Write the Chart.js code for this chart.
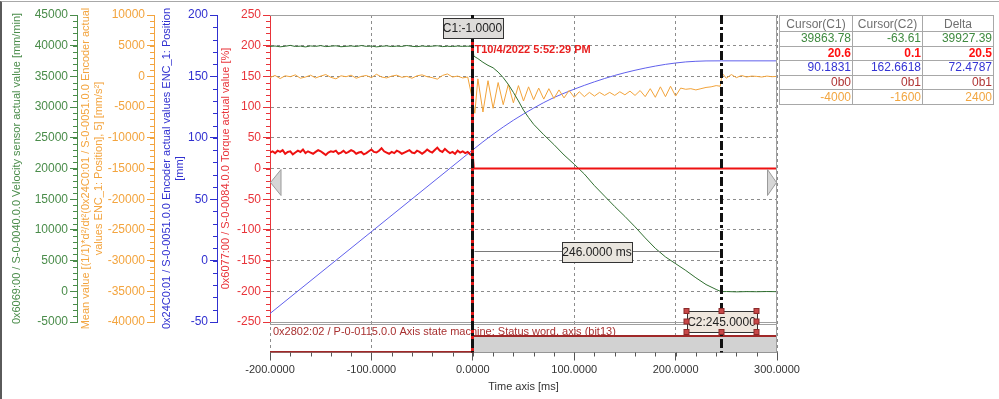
<!DOCTYPE html>
<html>
<head>
<meta charset="utf-8">
<script src="https://cdn.jsdelivr.net/npm/chart.js@4.4.0/dist/chart.umd.min.js"></script>
<style>
  html, body { margin: 0; padding: 0; background: #fff; }
  #wrap { position: relative; width: 999px; height: 399px; overflow: hidden; }
  #frame { position: absolute; left: 0; top: 1px; width: 997px; height: 398px; border-left: 2px solid #5a5a5a; border-top: 1px solid #a8a8a8; pointer-events: none; }
  canvas { position: absolute; left: 0; top: 0; }
  #cursors { position: absolute; left: 779px; top: 15px; border-collapse: collapse; font: 12px "Liberation Sans", Arial, sans-serif; }
  #cursors th { border: 1px solid #a8a8a8; font-weight: normal; color: #707070; height: 15px; padding: 0; line-height: 14px; }
  #cursors td { border: 1px solid #a8a8a8; height: 13.6px; padding: 0 1px 0 0; text-align: right; line-height: 13px; }
</style>
</head>
<body>
<div id="wrap">
  <canvas id="goo" width="999" height="399"></canvas>
  <table id="cursors"></table>
  <div id="frame"></div>
</div>
<script>
// sample times before the trigger (ms)
const preTimes = [];
for (let t = -200; t <= 0; t += 5) preTimes.push(t);
const trqPreTimes = [];
for (let t = -200; t <= 0; t += 2.5) trqPreTimes.push(t);

// velocity sensor actual value [mm/min]
const velPre = [39880, 39950, 39820, 39910, 40050, 39870, 39930, 39800, 39960, 39890, 40010, 39850, 39920, 39980, 39830, 39900, 39960, 39870, 40020, 39890, 39940, 39810, 39900, 39970, 39860, 39930, 39880, 40030, 39900, 39840, 39950, 39880, 39920, 39990, 39850, 39910, 39870, 39940, 39890, 39920, 39864];
const velPostTimes = [1, 5, 10, 15, 20, 25, 30, 35, 40, 45, 50, 55, 60, 70, 80, 90, 100, 110, 120, 130, 140, 150, 160, 170, 180, 190, 200, 210, 220, 230, 240, 245, 250, 260, 270, 280, 290, 300];
const velPost = [38300, 37900, 37300, 36800, 36400, 35700, 34800, 33700, 32400, 31000, 29500, 28300, 27200, 25500, 23900, 22200, 20700, 19100, 17200, 15500, 13800, 12200, 10500, 8700, 7000, 5600, 4500, 3400, 2200, 1100, 300, -63, -40, -90, -50, -70, -40, -60];

// mean acceleration [mm/s2]
const accPre = [-200, 150, -350, 100, -50, 250, -300, -100, 200, -250, 50, 300, -150, -400, 100, -50, 200, -300, 0, 150, -200, 350, -100, -250, 50, 200, -150, 0, -300, 100, 250, -50, -200, -450, 150, 400, -100, 50, -250, -100, -4000];
const accPostTimes = [2, 5, 10, 15, 20, 25, 30, 35, 40, 45, 50, 55, 60, 65, 70, 75, 80, 85, 90, 95, 100, 105, 110, 115, 120, 125, 130, 135, 140, 145, 150, 155, 160, 165, 170, 175, 180, 185, 190, 195, 200, 205, 210, 215, 220, 225, 230, 235, 240, 244, 246, 250, 255, 260, 265, 270, 275, 280, 285, 290, 295, 300];
const accPost = [-6000, -400, -5800, -700, -5200, -1000, -4600, -1300, -4300, -1500, -4000, -1700, -3800, -1900, -3700, -2000, -3600, -2200, -3500, -2300, -3400, -2500, -3300, -2600, -3200, -2600, -3100, -2600, -3100, -2500, -3000, -2400, -3100, -2300, -3300, -2000, -3400, -1700, -3300, -1600, -3200, -1900, -2100, -2000, -2200, -2000, -1800, -1700, -1500, -1600, 500, -300, 300, -200, 150, -100, 50, 0, -100, 50, -50, 0];

// encoder position [mm]
const posTimes = [-200, -100, 0, 10, 20, 30, 40, 50, 60, 70, 80, 90, 100, 110, 120, 130, 140, 150, 160, 170, 180, 190, 200, 210, 220, 230, 245, 300];
const posValues = [-43.1, 23.5, 90.18, 96.7, 102.9, 108.8, 114.3, 119.4, 124.2, 128.7, 132.8, 136.3, 139.6, 142.7, 145.6, 148.3, 150.8, 153.0, 155.0, 156.8, 158.4, 159.8, 160.9, 161.8, 162.3, 162.6, 162.66, 162.66];

// torque actual value [%]
const trqPre = [26, 28, 25, 29, 27, 30, 24, 27, 28, 23, 26, 29, 27, 31, 25, 28, 26, 24, 27, 30,
    28, 25, 22, 26, 28, 27, 29, 24, 26, 29, 25, 27, 30, 28, 24, 26, 27, 23, 25, 28,
    31, 27, 26, 29, 33, 28, 26, 24, 27, 25, 29, 27, 24, 26, 28, 30, 26, 25, 29, 27,
    24, 27, 31, 28, 26, 30, 34, 29, 27, 32, 28, 25, 27, 24, 29, 26, 28, 25, 27, 23, 20.6];
const trqPostTimes = [1, 300];
const trqPost = [0.1, 0.1];

// status word bit13
const bitTimes = [-200, 0, 300];
const bitValues = [0, 1, 1];

// cursors
const cursorC1 = -1;
const cursorC2 = 245;
const triggerText = 'T10/4/2022 5:52:29 PM';
const bitLabel = '0x2802:02 / P-0-0115.0.0 Axis state machine: Status word, axis (bit13)';

// cursor table
const tableHead = ['Cursor(C1)', 'Cursor(C2)', 'Delta'];
const tableRows = [
    ['39863.78', '-63.61', '39927.39'],
    ['20.6', '0.1', '20.5'],
    ['90.1831', '162.6618', '72.4787'],
    ['0b0', '0b1', '0b1'],
    ['-4000', '-1600', '2400']
];
const tableColors = ['#3f8a3f', '#ff1010', '#3434d4', '#b03434', '#f2a640'];

const GREEN = '#4a8c4a';
const ORANGE = '#f3a43e';
const BLUE = '#3030d0';
const RED = '#e8343a';
const FONT = '"Liberation Sans", Arial, sans-serif';
const MAIN_W = 307;
const BAND_W = 30.5;

Chart.defaults.font.family = FONT;

let tbl = document.getElementById("cursors");
let hr = document.createElement("tr");
tableHead.forEach(function(h, i) {
    let th = document.createElement("th");
    th.innerHTML = h;
    th.style.width = [72, 69, 70][i] + "px";
    hr.appendChild(th);
});
tbl.appendChild(hr);
tableRows.forEach(function(row, r) {
    let tr = document.createElement("tr");
    row.forEach(function(v) {
        let td = document.createElement("td");
        td.textContent = v;
        td.style.color = tableColors[r];
        if (r == 1) td.style.fontWeight = "bold";
        tr.appendChild(td);
    });
    tbl.appendChild(tr);
});

function pts(ts, vs) {
    return ts.map(function(t, i) { return { x: t, y: vs[i] }; });
}

function valueAxis(o) {
    return {
        type: 'linear', position: 'left', weight: o.weight, stack: o.stack, stackWeight: MAIN_W,
        min: o.min, max: o.max,
        ticks: { stepSize: o.step, color: o.color, font: { size: 12 }, padding: 2, autoSkip: false,
            callback: function(v) { return String(v); } },
        grid: {
            drawOnChartArea: !!o.grid,
            color: function(c) { return (c.tick && Math.abs(c.tick.value) === 250) ? 'rgba(0,0,0,0)' : '#8c8c8c'; },
            tickColor: o.color, tickLength: 7, tickBorderDash: []
        },
        border: { color: o.color, width: 1, dash: o.grid ? [3, 3] : [] },
        title: { display: true, text: o.title, color: o.color, font: { size: 11 }, padding: { top: o.titlePad, bottom: 0 } },
        afterFit: function(s) { s.width = o.width; }
    };
}

function padAxis(weight, stack) {
    return {
        type: 'linear', position: 'left', weight: weight, stack: stack, stackWeight: BAND_W,
        ticks: { display: false }, grid: { display: false }, border: { display: false },
        afterFit: function(s) { s.width = 0; }
    };
}

const decor = {
    id: 'decor',
    afterDatasetsDraw(chart) {
        const ctx = chart.ctx, a = chart.chartArea, s = chart.scales;
        const x = s.x, trq = s.yTrq, bit = s.yBit;
        ctx.save();

        // frame and band separators
        ctx.strokeStyle = '#a0a0a0';
        ctx.lineWidth = 1;
        ctx.beginPath();
        ctx.moveTo(a.left, a.top + 0.5); ctx.lineTo(a.right - 0.5, a.top + 0.5); ctx.lineTo(a.right - 0.5, a.bottom);
        ctx.moveTo(a.left, Math.round(bit.top) + 0.5); ctx.lineTo(a.right, Math.round(bit.top) + 0.5);
        ctx.moveTo(a.left, Math.round(bit.top) + 2.5); ctx.lineTo(a.right, Math.round(bit.top) + 2.5);
        ctx.stroke();

        ctx.font = '11px ' + FONT;
        ctx.fillStyle = '#a83030';
        ctx.textBaseline = 'middle';
        ctx.textAlign = 'left';
        ctx.fillText(bitLabel, a.left + 3, bit.top + 9.5);

        // scroll arrows
        const y0 = trq.getPixelForValue(0);
        ctx.fillStyle = '#d6d6d6';
        ctx.strokeStyle = '#9a9a9a';
        ctx.beginPath();
        ctx.moveTo(a.left + 0.5, y0 + 14); ctx.lineTo(a.left + 11, y0 + 1); ctx.lineTo(a.left + 11, y0 + 27); ctx.closePath();
        ctx.fill(); ctx.stroke();
        ctx.beginPath();
        ctx.moveTo(a.right - 0.5, y0 + 14); ctx.lineTo(a.right - 9.5, y0 + 1); ctx.lineTo(a.right - 9.5, y0 + 27); ctx.closePath();
        ctx.fill(); ctx.stroke();

        // cursor lines
        const x1 = Math.round(x.getPixelForValue(cursorC1)) + 0.5;
        const x2 = Math.round(x.getPixelForValue(cursorC2)) + 0.5;
        ctx.lineWidth = 3;
        ctx.strokeStyle = '#e01818';
        ctx.beginPath(); ctx.moveTo(x1, a.top); ctx.lineTo(x1, a.bottom); ctx.stroke();
        ctx.setLineDash([9, 3, 3, 3]);
        ctx.strokeStyle = '#111';
        ctx.beginPath(); ctx.moveTo(x1, a.top); ctx.lineTo(x1, a.bottom); ctx.stroke();
        ctx.beginPath(); ctx.moveTo(x2, a.top); ctx.lineTo(x2, a.bottom); ctx.stroke();
        ctx.setLineDash([]);

        // delta measurement
        const yd = Math.round(trq.getPixelForValue(-135)) + 0.5;
        ctx.lineWidth = 1;
        ctx.strokeStyle = '#7a7a7a';
        ctx.beginPath(); ctx.moveTo(x1 + 2, yd); ctx.lineTo(x2 - 2, yd); ctx.stroke();
        box(ctx, (x1 + x2) / 2, yd, 70, 20, '#e9e5de', (cursorC2 - cursorC1).toFixed(4) + ' ms');

        // cursor labels
        box(ctx, x1, a.top + 13, 60, 20, '#dedcda', 'C1:' + cursorC1.toFixed(4));
        const yc2 = bit.top - 0.5;
        box(ctx, x2, yc2, 70, 21, '#efe7de', 'C2:' + cursorC2.toFixed(4));
        ctx.fillStyle = '#c84848';
        ctx.strokeStyle = '#8a2a2a';
        [[-35, -10.5], [0, -10.5], [35, -10.5], [-35, 0], [35, 0], [-35, 10.5], [0, 10.5], [35, 10.5]].forEach(function(p) {
            ctx.fillRect(x2 + p[0] - 2.5, yc2 + p[1] - 2.5, 5, 5);
            ctx.strokeRect(x2 + p[0] - 2.5, yc2 + p[1] - 2.5, 5, 5);
        });

        // trigger stamp
        ctx.font = 'bold 11px ' + FONT;
        ctx.fillStyle = '#e82020';
        ctx.textAlign = 'left';
        ctx.fillText(triggerText, x1 + 2, a.top + 35);
        ctx.restore();
    },
    afterDraw(chart) {
        // minor tick marks
        const ctx = chart.ctx;
        ctx.save();
        ctx.lineWidth = 1;
        [['yVel', 1000, GREEN], ['yAcc', 1000, ORANGE], ['yPos', 10, BLUE], ['yTrq', 10, RED]].forEach(function(m) {
            const s = chart.scales[m[0]];
            ctx.strokeStyle = m[2];
            ctx.beginPath();
            for (let v = s.min; v <= s.max; v += m[1]) {
                const y = Math.round(s.getPixelForValue(v)) + 0.5;
                ctx.moveTo(s.right - 4, y); ctx.lineTo(s.right, y);
            }
            ctx.stroke();
        });
        const x = chart.scales.x;
        ctx.strokeStyle = '#555';
        ctx.beginPath();
        for (let v = x.min; v <= x.max; v += 20) {
            const px = Math.round(x.getPixelForValue(v)) + 0.5;
            ctx.moveTo(px, x.top); ctx.lineTo(px, x.top + 4);
        }
        ctx.stroke();
        ctx.restore();
    }
};

function box(ctx, cx, cy, w, h, fill, text) {
    const l = Math.round(cx - w / 2) + 0.5, t = Math.round(cy - h / 2) + 0.5;
    ctx.fillStyle = fill;
    ctx.fillRect(l, t, w, h);
    ctx.strokeStyle = '#333';
    ctx.lineWidth = 1;
    ctx.strokeRect(l, t, w, h);
    ctx.font = '12px ' + FONT;
    ctx.fillStyle = '#222';
    ctx.textAlign = 'center';
    ctx.textBaseline = 'middle';
    ctx.fillText(text, cx, cy + 1);
}

var ctx = document.getElementById("goo").getContext('2d');
var goo = new Chart(ctx, {
    type: 'line',
    data: {
        datasets: [{
            label: 'Torque',
            data: pts(trqPreTimes.concat(trqPostTimes), trqPre.concat(trqPost)),
            yAxisID: 'yTrq', borderColor: '#ee1111', borderWidth: 2
        }, {
            label: 'Velocity',
            data: pts(preTimes.concat(velPostTimes), velPre.concat(velPost)),
            yAxisID: 'yVel', borderColor: '#2f6e2f', borderWidth: 1
        }, {
            label: 'Acceleration',
            data: pts(preTimes.concat(accPostTimes), accPre.concat(accPost)),
            yAxisID: 'yAcc', borderColor: '#f2a33a', borderWidth: 1
        }, {
            label: 'Position',
            data: pts(posTimes, posValues),
            yAxisID: 'yPos', borderColor: '#6060ec', borderWidth: 1
        }, {
            label: 'Status bit13',
            data: pts(bitTimes, bitValues),
            yAxisID: 'yBit', stepped: true, borderColor: '#a02828', borderWidth: 2,
            fill: 'start', backgroundColor: '#d2d2d2'
        }]
    },
    options: {
        responsive: false,
        animation: false,
        devicePixelRatio: 1,
        elements: { point: { radius: 0 }, line: { tension: 0 } },
        layout: { padding: { left: 0, right: 222, top: 15, bottom: 0 } },
        plugins: { legend: { display: false }, tooltip: { enabled: false } },
        scales: {
            x: {
                type: 'linear', position: 'bottom', min: -200, max: 300,
                ticks: { stepSize: 100, color: '#333', font: { size: 11 }, padding: 3, maxRotation: 0,
                    callback: function(v) { return v.toFixed(4); } },
                grid: { color: '#8c8c8c', tickColor: '#555', tickLength: 8, tickBorderDash: [] },
                border: { color: '#8c8c8c', dash: [3, 3] },
                title: { display: true, text: 'Time axis [ms]', color: '#333', font: { size: 11 }, padding: { top: 0, bottom: 5 } },
                afterFit: function(s) { s.height = 46.5; }
            },
            yVel: valueAxis({ weight: 8, stack: 'vel', min: -5000, max: 45000, step: 5000, color: GREEN, width: 77, titlePad: 10.4,
                title: '0x6069:00 / S-0-0040.0.0 Velocity sensor actual value [mm/min]' }),
            yVelPad: padAxis(7, 'vel'),
            yAcc: valueAxis({ weight: 6, stack: 'acc', min: -40000, max: 10000, step: 5000, color: ORANGE, width: 77, titlePad: 2.4,
                title: ['Mean value [(1/1)*d²/dt²(0x24C0:01 / S-0-0051.0.0 Encoder actual', 'values ENC_1: Position], 5] [mm/s²]'] }),
            yAccPad: padAxis(5, 'acc'),
            yPos: valueAxis({ weight: 4, stack: 'pos', min: -50, max: 200, step: 50, color: BLUE, width: 63, titlePad: 6.4,
                title: ['0x24C0:01 / S-0-0051.0.0 Encoder actual values ENC_1: Position', '[mm]'] }),
            yPosPad: padAxis(3, 'pos'),
            yTrq: valueAxis({ weight: 2, stack: 'trq', min: -250, max: 250, step: 50, color: RED, width: 53, titlePad: 2.1, grid: true,
                title: '0x6077:00 / S-0-0084.0.0 Torque actual value [%]' }),
            yBit: Object.assign(padAxis(1, 'trq'), { min: -0.03, max: 1.876 })
        }
    },
    plugins: [decor]
});
</script>
</body>
</html>
